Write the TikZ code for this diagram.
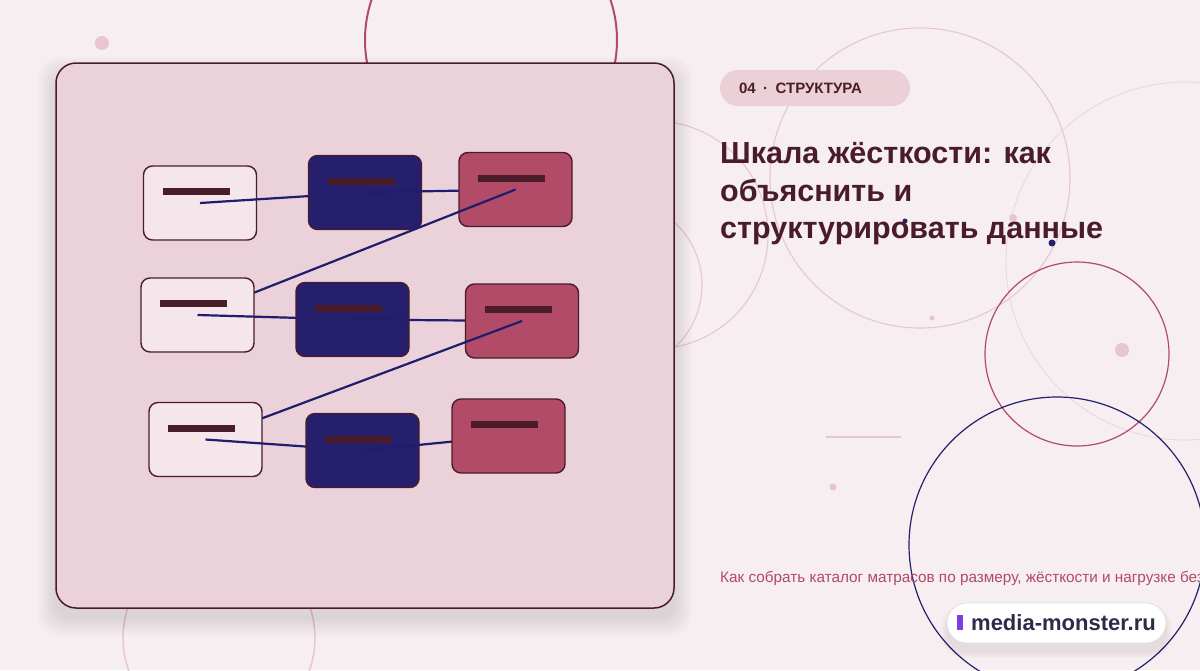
\documentclass[tikz,border=0pt]{standalone}
\usepackage{fontspec}
\setmainfont{Liberation Sans}
\definecolor{bgcol}{HTML}{F6EEF0}
\definecolor{panelcol}{HTML}{EBD2DA}
\definecolor{maroon}{HTML}{4A1C2A}
\definecolor{cardcol}{HTML}{F4E6EA}
\definecolor{navycol}{HTML}{251F6E}
\definecolor{rosecol}{HTML}{B24B67}
\definecolor{linkcol}{HTML}{201C6E}
\definecolor{ringcol}{HTML}{E8C6D0}
\definecolor{pillcol}{HTML}{ECD0D8}
\definecolor{subcol}{HTML}{B04A6A}
\definecolor{sitecol}{HTML}{2E2A4A}
\definecolor{brandcol}{HTML}{7B3FE4}
\tikzset{
  card/.style={rectangle, rounded corners=9pt, draw=maroon, line width=1.4pt,
    minimum width=113pt, minimum height=74pt, inner sep=0pt,
    path picture={\fill[maroon, sharp corners] ([shift={(19pt,-22pt)}]path picture bounding box.north west) rectangle ++(67pt,-7pt);}},
  lightcard/.style={card, fill=cardcol},
  navycard/.style={card, fill=navycol},
  rosecard/.style={card, fill=rosecol},
  link/.style={draw=linkcol, line width=2.2pt},
  ring/.style={draw=ringcol, line width=1.1pt},
}
\begin{document}
\begin{tikzpicture}[x=1pt, y=-1pt]
% Background
\fill[bgcol] (0,0) rectangle (1200,670);
\useasboundingbox (0,0) rectangle (1200,670);

% Decorative circles
\draw[ring] (920,178) circle[radius=150pt];
\draw[ring, draw=ringcol!75, line width=0.8pt] (1185,261) circle[radius=179pt];
\draw[ring] (654,235) circle[radius=114pt];
\draw[ring] (617,285) circle[radius=85pt];
\draw[ring, line width=1.5pt] (219,638) circle[radius=96pt];
\draw[draw=rosecol, line width=2pt] (491,40) circle[radius=126pt];
\draw[draw=subcol, line width=1.2pt] (1077,354) circle[radius=92pt];
\draw[draw=navycol, line width=1.2pt] (1057,545) circle[radius=148pt];
\draw[ring, line width=1.5pt] (826,437) -- (901,437);

% Dots
\fill[ringcol] (102,43) circle[radius=7pt];
\fill[ringcol] (1122,350) circle[radius=7pt];
\fill[ringcol] (1013,218) circle[radius=4pt];
\fill[ringcol] (932,318) circle[radius=2.5pt];
\fill[ringcol] (833,487) circle[radius=3.5pt];
\fill[navycol] (905,221) circle[radius=2.5pt];
\fill[navycol] (1052,243) circle[radius=3.5pt];

% Panel with soft shadow
\foreach \s in {2,4,...,18}
  \fill[black, opacity=0.012, rounded corners=20pt] ({56-\s},{75-\s}) rectangle ({674+\s},{618+\s});
\draw[fill=panelcol, draw=maroon, line width=1.5pt, rounded corners=20pt] (56,63) rectangle (674,608);

% Card centres
\coordinate (a1) at (200,203);
\coordinate (b1) at (365,192.5);
\coordinate (c1) at (515.5,189.5);
\coordinate (a2) at (197.5,315);
\coordinate (b2) at (352.5,319.5);
\coordinate (c2) at (522,321);
\coordinate (a3) at (205.5,439.5);
\coordinate (b3) at (362.5,450.5);
\coordinate (c3) at (508.5,436);

% Cards and links, in chain order
\node[lightcard] (A1) at (a1) {};
\draw[link] (a1) -- (b1);
\node[navycard] (B1) at (b1) {};
\draw[link] (b1) -- (c1);
\node[rosecard] (C1) at (c1) {};
\draw[link] (c1) -- (a2);
\node[lightcard] (A2) at (a2) {};
\draw[link] (a2) -- (b2);
\node[navycard] (B2) at (b2) {};
\draw[link] (b2) -- (c2);
\node[rosecard] (C2) at (c2) {};
\draw[link] (c2) -- (a3);
\node[lightcard] (A3) at (a3) {};
\draw[link] (a3) -- (b3);
\node[navycard] (B3) at (b3) {};
\draw[link] (b3) -- (c3);
\node[rosecard] (C3) at (c3) {};

% Section tag
\node[fill=pillcol, rounded corners=18pt, minimum height=36pt, text width=152pt,
  inner xsep=19pt, align=left, text=maroon, font=\fontsize{15}{18}\selectfont\bfseries] (tag) at (815,88) {04 \,·\, СТРУКТУРА};

% Title
\node[anchor=base west, inner sep=0pt, text=maroon, font=\fontsize{30.5}{36}\selectfont\bfseries] (title1) at (720,163) {Шкала жёсткости: как};
\node[anchor=base west, inner sep=0pt, text=maroon, font=\fontsize{30.5}{36}\selectfont\bfseries] (title2) at (720,201) {объяснить и};
\node[anchor=base west, inner sep=0pt, text=maroon, font=\fontsize{30.5}{36}\selectfont\bfseries] (title3) at (720,238) {структурировать данные};

% Subtitle
\node[anchor=base west, inner sep=0pt, text=subcol, font=\fontsize{15.3}{18}\selectfont] (sub) at (720,582) {Как собрать каталог матрасов по размеру, жёсткости и нагрузке без};

% Site badge
\foreach \s in {1,2,...,6}
  \fill[black, opacity=0.012, rounded corners=22pt] ({947-\s},{611-\s}) rectangle ({1166+\s},{652+\s});
\node[fill=white, draw=black!12, line width=0.8pt, rounded corners=20pt, minimum width=219pt, minimum height=40pt,
  text=sitecol, font=\fontsize{22}{26}\selectfont\bfseries] (site) at (1056.5,623)
  {\textcolor{brandcol}{\rule[1pt]{6pt}{15pt}}\hspace{8pt}media-monster.ru};
\end{tikzpicture}
\end{document}
